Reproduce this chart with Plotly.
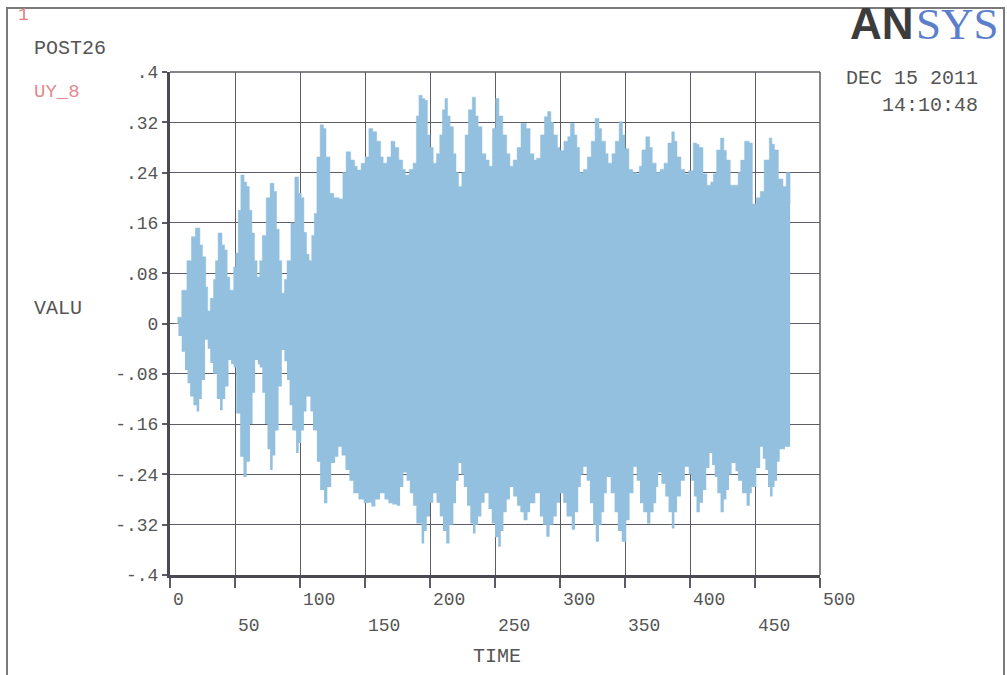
import plotly.graph_objects as go

# Envelope of the UY_8 response (max / min of the oscillation over time)
t_upper = [4, 6, 9, 13, 16.5, 19.5, 23, 25, 27.5, 29, 31, 33.5, 35, 37, 40, 42, 44, 46, 49, 50.5,
           52.5, 54.5, 57, 59, 61, 63, 65, 67, 69, 71, 74, 77, 80, 82, 84, 86, 88, 90, 93, 96,
           99, 101, 103, 105, 107, 109, 111, 113, 115.5, 118, 120, 123, 126, 130, 133, 135.5, 139, 142, 144, 147,
           150, 153, 156, 159, 162, 164, 167, 170, 173, 176, 179, 181, 184, 187, 189.5, 191.5, 194, 196, 198, 200,
           202.5, 205, 207.5, 209.5, 211.5, 213.5, 215.5, 218, 220, 222, 224.5, 227, 229.5, 232.5, 235, 237, 240, 243, 245.5, 248,
           250.5, 253, 256, 259, 261.5, 264, 267, 270, 274, 277, 280, 282, 285, 288, 290.5, 293, 295, 298, 300, 303,
           306, 308, 311, 313, 315, 318, 321, 324, 327, 330, 332, 335, 337, 340, 342.5, 345.5, 348, 350, 353, 356,
           359, 361, 363, 366, 369, 371, 374, 377, 380, 383, 386, 388, 390, 393, 396, 399, 402.5, 405, 407, 410,
           413, 416, 418, 420.5, 423.5, 426, 428, 431, 434, 437, 439, 442, 445.5, 448, 451, 454, 457, 461, 463, 465,
           468, 471.5, 474, 477]
upper = [0.0, 0.01, 0.053, 0.10, 0.138, 0.152, 0.125, 0.106, 0.058, 0.02, 0.04, 0.07, 0.10, 0.144, 0.125, 0.117, 0.074, 0.053, 0.09, 0.112,
         0.18, 0.236, 0.225, 0.218, 0.18, 0.144, 0.10, 0.074, 0.10, 0.14, 0.20, 0.223, 0.21, 0.15, 0.10, 0.048, 0.07, 0.10, 0.16, 0.233,
         0.207, 0.20, 0.145, 0.11, 0.10, 0.14, 0.175, 0.265, 0.316, 0.31, 0.265, 0.207, 0.20, 0.198, 0.24, 0.273, 0.26, 0.25, 0.244, 0.255,
         0.265, 0.31, 0.305, 0.29, 0.265, 0.255, 0.265, 0.29, 0.28, 0.26, 0.245, 0.236, 0.245, 0.255, 0.33, 0.363, 0.358, 0.355, 0.30, 0.28,
         0.255, 0.27, 0.30, 0.34, 0.358, 0.33, 0.313, 0.27, 0.24, 0.218, 0.24, 0.30, 0.34, 0.36, 0.33, 0.313, 0.27, 0.26, 0.25, 0.31,
         0.358, 0.33, 0.30, 0.27, 0.25, 0.26, 0.28, 0.318, 0.31, 0.27, 0.26, 0.263, 0.30, 0.329, 0.337, 0.32, 0.30, 0.28, 0.275, 0.29,
         0.297, 0.318, 0.30, 0.28, 0.24, 0.245, 0.265, 0.29, 0.326, 0.31, 0.29, 0.27, 0.255, 0.27, 0.29, 0.321, 0.30, 0.278, 0.245, 0.24,
         0.238, 0.25, 0.276, 0.297, 0.28, 0.255, 0.24, 0.245, 0.255, 0.287, 0.305, 0.29, 0.265, 0.245, 0.238, 0.243, 0.287, 0.285, 0.28, 0.238,
         0.22, 0.225, 0.238, 0.276, 0.295, 0.275, 0.26, 0.22, 0.22, 0.24, 0.26, 0.29, 0.287, 0.19, 0.20, 0.21, 0.26, 0.295, 0.285, 0.276,
         0.23, 0.218, 0.24, 0.19]

t_lower = [4, 6.5, 9, 11.5, 13.5, 15.5, 18, 20.5, 22.5, 24.5, 27, 29, 31, 33, 36, 38.5, 40.5, 42.5, 45, 47,
           49, 51, 54, 56.5, 59, 61.5, 63.5, 65.5, 67.5, 69, 71, 73, 75, 77, 79, 81, 83.5, 86, 88, 90,
           92, 94, 97, 99, 101, 103, 105, 108, 110, 113, 115.5, 118.5, 121, 124, 127, 129.5, 132, 135, 138, 141,
           145, 149, 152, 155, 158, 161.5, 165, 168, 171, 174.5, 177, 179.5, 182, 184.5, 187, 189.5, 193.5, 195.5, 197.5, 200,
           202.5, 205, 207.5, 210, 212.5, 215, 218, 220, 222, 224, 226, 228.5, 231, 233, 235, 237, 239.5, 242, 245, 247.5,
           250, 252.5, 254.5, 256.5, 259, 261.5, 264, 267, 269.5, 272, 275, 277, 281, 284.5, 287, 289.5, 292, 295, 297.5, 300,
           302.5, 305, 309, 311.5, 314, 316, 318, 320.5, 323, 325.5, 327.5, 330, 332, 334, 336, 339, 342, 344.5, 347.5, 351,
           353.5, 356.5, 359, 361.5, 364, 367, 369.5, 372, 374, 375.5, 378, 381, 383.5, 386, 388, 390, 393, 396, 399, 401,
           403, 405, 407.5, 410, 412.5, 415, 417, 419, 421, 423.5, 426, 428, 430, 432, 435, 437, 440, 443.5, 446, 447.5,
           451, 454, 456, 458, 460, 461.5, 463.5, 465, 467, 469, 473, 477]
lower = [0.0, -0.02, -0.045, -0.074, -0.095, -0.116, -0.13, -0.14, -0.12, -0.09, -0.026, -0.04, -0.063, -0.08, -0.12, -0.138, -0.12, -0.10, -0.058, -0.065,
         -0.07, -0.143, -0.212, -0.244, -0.22, -0.16, -0.11, -0.058, -0.065, -0.07, -0.11, -0.16, -0.20, -0.233, -0.21, -0.17, -0.10, -0.042, -0.06, -0.09,
         -0.13, -0.17, -0.206, -0.19, -0.17, -0.14, -0.116, -0.14, -0.17, -0.22, -0.265, -0.286, -0.26, -0.222, -0.212, -0.196, -0.21, -0.233, -0.25, -0.27,
         -0.28, -0.286, -0.285, -0.291, -0.28, -0.27, -0.28, -0.286, -0.288, -0.29, -0.26, -0.237, -0.25, -0.27, -0.29, -0.318, -0.35, -0.33, -0.307, -0.285,
         -0.27, -0.285, -0.307, -0.33, -0.35, -0.32, -0.286, -0.25, -0.222, -0.24, -0.26, -0.29, -0.318, -0.334, -0.32, -0.307, -0.285, -0.27, -0.295, -0.318,
         -0.34, -0.355, -0.33, -0.30, -0.28, -0.26, -0.275, -0.29, -0.30, -0.313, -0.30, -0.286, -0.27, -0.307, -0.32, -0.339, -0.32, -0.307, -0.285, -0.27,
         -0.285, -0.307, -0.328, -0.30, -0.26, -0.24, -0.228, -0.25, -0.286, -0.32, -0.347, -0.32, -0.30, -0.27, -0.244, -0.27, -0.30, -0.33, -0.347, -0.313,
         -0.27, -0.228, -0.25, -0.286, -0.30, -0.318, -0.30, -0.286, -0.26, -0.237, -0.255, -0.275, -0.30, -0.326, -0.30, -0.275, -0.25, -0.228, -0.24, -0.25,
         -0.275, -0.30, -0.285, -0.265, -0.23, -0.206, -0.225, -0.244, -0.27, -0.30, -0.28, -0.265, -0.24, -0.222, -0.235, -0.25, -0.27, -0.29, -0.27, -0.26,
         -0.23, -0.196, -0.215, -0.233, -0.26, -0.275, -0.26, -0.25, -0.22, -0.20, -0.196, -0.19]

y_ticks = [-0.4, -0.32, -0.24, -0.16, -0.08, 0, 0.08, 0.16, 0.24, 0.32, 0.4]
y_tick_text = ["-.4", "-.32", "-.24", "-.16", "-.08", "0", ".08", ".16", ".24", ".32", ".4"]
x_ticks = [0, 50, 100, 150, 200, 250, 300, 350, 400, 450, 500]
x_tick_text = ["0", "50", "100", "150", "200", "250", "300", "350", "400", "450", "500"]

MONO = "Liberation Mono, Courier New, monospace"
GRID = "#5c5c66"
TXT = "#555555"
FILL = "#93c0de"

fig = go.Figure()
fig.add_trace(go.Scatter(x=t_lower, y=lower, mode="lines", line=dict(width=0, shape="hv", color=FILL),
                         hoverinfo="skip", showlegend=False))
fig.add_trace(go.Scatter(x=t_upper, y=upper, mode="lines", line=dict(width=0.5, shape="hv", color=FILL),
                         fill="tonexty", fillcolor=FILL, hoverinfo="skip", showlegend=False))

W, H = 1007, 675
L, R, T, B = 170, 820, 72, 575


def px_x(px):
    return (px - L) / (R - L)


def px_y(py):
    return (B - py) / (B - T)


annotations = []
# x tick labels in two staggered rows, left-aligned at their tick
for v, s in zip(x_ticks, x_tick_text):
    row_y = 600 if (v // 50) % 2 == 0 else 626
    annotations.append(dict(x=v, xref="x", y=px_y(row_y), yref="paper", text=s, showarrow=False,
                            xanchor="left", yanchor="middle", xshift=1,
                            font=dict(family=MONO, size=18, color=TXT)))

annotations += [
    dict(x=px_x(497), y=px_y(656), text="TIME", xanchor="center"),
    dict(x=px_x(32), y=px_y(308), text="VALU", xanchor="left"),
    dict(x=px_x(32), y=px_y(48), text="POST26", xanchor="left"),
    dict(x=px_x(980), y=px_y(78), text="DEC 15 2011", xanchor="right"),
    dict(x=px_x(980), y=px_y(106), text="14:10:48", xanchor="right"),
]
for a in annotations[-5:]:
    a.update(xref="paper", yref="paper", yanchor="middle", showarrow=False,
             font=dict(family=MONO, size=20, color=TXT))

annotations += [
    dict(x=px_x(16), y=px_y(15), xref="paper", yref="paper", text="1", xanchor="left", yanchor="middle",
         showarrow=False, font=dict(family=MONO, size=18, color="#e07c84")),
    dict(x=px_x(32), y=px_y(92), xref="paper", yref="paper", text="UY_8", xanchor="left", yanchor="middle",
         showarrow=False, font=dict(family=MONO, size=19, color="#e08a92")),
    dict(x=px_x(916), y=px_y(24), xref="paper", yref="paper", text="<b>AN</b>", xanchor="right", yanchor="middle",
         showarrow=False, font=dict(family="Liberation Sans, Arial", size=44, color="#3c3c3c")),
    dict(x=px_x(914), y=px_y(24), xref="paper", yref="paper", text="SYS", xanchor="left", yanchor="middle",
         showarrow=False, font=dict(family="Liberation Serif, Times New Roman", size=45, color="#5b7fcb")),
]

shapes = [
    # outer frame
    dict(type="rect", xref="paper", yref="paper", x0=px_x(7), x1=px_x(1004), y0=px_y(690), y1=px_y(8),
         line=dict(color="#7a7a7a", width=2), layer="below"),
    # thin top and right borders of the plot area
    dict(type="line", xref="paper", yref="paper", x0=0, x1=1, y0=1, y1=1, line=dict(color=GRID, width=1.5)),
    dict(type="line", xref="paper", yref="paper", x0=1, x1=1, y0=0, y1=1, line=dict(color=GRID, width=1.5)),
]

fig.update_layout(
    width=W, height=H,
    margin=dict(l=L, r=W - R, t=T, b=H - B, pad=0),
    paper_bgcolor="white", plot_bgcolor="white",
    showlegend=False,
    annotations=annotations,
    shapes=shapes,
    xaxis=dict(range=[0, 500], tickvals=x_ticks, showticklabels=False, ticks="outside", ticklen=10,
               tickwidth=1.5, tickcolor=GRID, showgrid=True, gridcolor=GRID, gridwidth=1.3,
               zeroline=False, showline=True, linecolor="#4a4a55", linewidth=3, layer="below traces"),
    yaxis=dict(range=[-0.4, 0.4], tickvals=y_ticks, ticktext=y_tick_text, ticks="outside", ticklen=5,
               tickwidth=1.5, tickcolor=GRID, showgrid=True, gridcolor=GRID, gridwidth=1.3,
               zeroline=False, showline=True, linecolor="#4a4a55", linewidth=3,
               tickfont=dict(family=MONO, size=18, color=TXT), layer="below traces"),
)

fig.write_html("out.html")
